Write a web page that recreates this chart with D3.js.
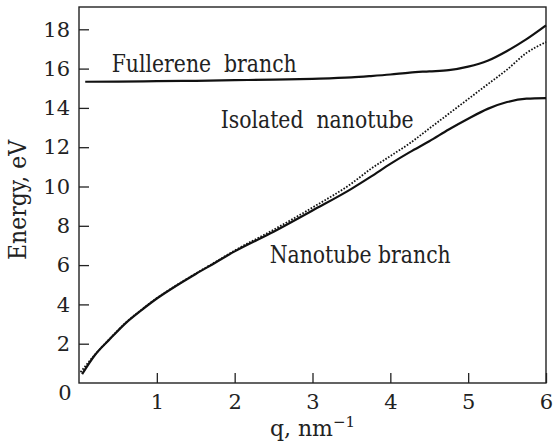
<!DOCTYPE html>
<html>
<head>
<meta charset="utf-8">
<script src="https://cdn.jsdelivr.net/npm/d3@7"></script>
<style>
  body { margin: 0; background: #fff; }
  svg, svg text { font-family: "DejaVu Serif", "Liberation Serif", "Noto Serif", serif !important; }
</style>
</head>
<body>
<div class="chart"></div>
<script>
// values
const nanotubeQ = [0.04, 0.2, 0.4, 0.6, 0.8, 1.0, 1.25, 1.5, 1.75, 2.0, 2.5, 3.0, 3.5, 3.75, 4.0, 4.25, 4.5, 4.75, 5.0, 5.25, 5.5, 5.75, 6.0]
const nanotubeE = [0.45, 1.4, 2.25, 3.05, 3.7, 4.3, 4.95, 5.55, 6.12, 6.7, 7.7, 8.78, 9.88, 10.5, 11.15, 11.75, 12.3, 12.9, 13.45, 13.95, 14.3, 14.47, 14.5]

const isolatedQ = [0.02, 0.2, 0.4, 0.6, 0.8, 1.0, 1.25, 1.5, 1.75, 2.0, 2.5, 3.0, 3.5, 3.75, 4.0, 4.25, 4.5, 4.75, 5.0, 5.25, 5.5, 5.75, 6.0]
const isolatedE = [0.55, 1.42, 2.27, 3.07, 3.72, 4.32, 4.97, 5.57, 6.15, 6.74, 7.8, 8.93, 10.15, 10.9, 11.55, 12.2, 12.95, 13.7, 14.45, 15.2, 15.95, 16.8, 17.35]

const fullereneQ = [0.08, 0.5, 1.0, 1.5, 2.0, 2.5, 3.0, 3.5, 3.75, 4.0, 4.25, 4.5, 4.75, 5.0, 5.25, 5.5, 5.75, 6.0]
const fullereneE = [15.33, 15.34, 15.36, 15.38, 15.41, 15.44, 15.48, 15.55, 15.62, 15.7, 15.8, 15.86, 15.92, 16.1, 16.4, 16.9, 17.5, 18.2]

const xTicks = [1, 2, 3, 4, 5, 6]
const yTicks = [2, 4, 6, 8, 10, 12, 14, 16, 18]

const labels = [
  { text: 'Fullerene  branch', q: 0.42, e: 15.85, len: 185 },
  { text: 'Isolated  nanotube', q: 1.82, e: 12.99, len: 193 },
  { text: 'Nanotube branch', q: 2.45, e: 6.13, len: 181 }
]

const margin = {top: 7, right: 8, bottom: 58, left: 79}
const width = 554 - margin.left - margin.right
const height = 441 - margin.top - margin.bottom

const x = d3.scaleLinear().domain([0, 6]).range([0, width])
const y = d3.scaleLinear().domain([0, 376 / 19.65]).range([height, 0])

const svg = d3.select('.chart').append('svg')
    .attr('width', 554)
    .attr('height', 441)
  .append('g')
    .attr('transform', 'translate(' + margin.left + ',' + margin.top + ')')

// x axis, ticks pointing in
svg.append('g')
    .attr('transform', 'translate(0,' + height + ')')
    .call(d3.axisBottom(x).tickValues(xTicks).tickSizeInner(-10).tickSizeOuter(0).tickPadding(11).tickFormat(d3.format('d')))
    .attr('font-size', 21)
    .call(g => g.select('.domain').remove())
    .call(g => g.selectAll('line').attr('stroke', '#222').attr('stroke-width', 1.3))
    .call(g => g.selectAll('text').attr('fill', '#222'))

// y axis
svg.append('g')
    .call(d3.axisLeft(y).tickValues(yTicks).tickSizeInner(-10).tickSizeOuter(0).tickPadding(9))
    .attr('font-size', 21)
    .call(g => g.select('.domain').remove())
    .call(g => g.selectAll('line').attr('stroke', '#222').attr('stroke-width', 1.3))
    .call(g => g.selectAll('text').attr('fill', '#222'))

// shared zero at the corner
svg.append('text')
    .attr('x', x(0) - 14)
    .attr('y', y(0) + 17)
    .attr('text-anchor', 'middle')
    .attr('font-size', 21)
    .attr('fill', '#222')
    .text('0')

// frame
svg.append('rect')
    .attr('width', width)
    .attr('height', height)
    .attr('fill', 'none')
    .attr('stroke', '#222')
    .attr('stroke-width', 1.4)

const line = d3.line()
  .x(d => x(d[0]))
  .y(d => y(d[1]))
  .curve(d3.curveMonotoneX)

svg.append('path')
    .datum(d3.zip(fullereneQ, fullereneE))
    .attr('fill', 'none').attr('stroke', '#111').attr('stroke-width', 2.2)
    .attr('d', line)

svg.append('path')
    .datum(d3.zip(isolatedQ, isolatedE))
    .attr('fill', 'none').attr('stroke', '#111').attr('stroke-width', 1.8)
    .attr('stroke-dasharray', '1.6,1.6')
    .attr('d', line)

svg.append('path')
    .datum(d3.zip(nanotubeQ, nanotubeE))
    .attr('fill', 'none').attr('stroke', '#111').attr('stroke-width', 2.2)
    .attr('d', line)

svg.selectAll('.note')
  .data(labels)
  .enter().append('text')
    .attr('class', 'note')
    .attr('x', d => x(d.q))
    .attr('y', d => y(d.e))
    .attr('font-size', 24)
    .attr('fill', '#222')
    .attr('textLength', d => d.len)
    .attr('lengthAdjust', 'spacingAndGlyphs')
    .style('white-space', 'pre')
    .text(d => d.text)

// axis titles
svg.append('text')
    .attr('transform', 'translate(' + (-53) + ',' + (height / 2 + 5) + ') rotate(-90)')
    .attr('text-anchor', 'middle')
    .attr('font-size', 24)
    .attr('textLength', 120)
    .attr('lengthAdjust', 'spacingAndGlyphs')
    .attr('fill', '#222')
    .text('Energy, eV')

const xt = svg.append('text')
    .attr('x', width / 2)
    .attr('y', height + 53)
    .attr('text-anchor', 'middle')
    .attr('font-size', 22)
    .attr('fill', '#222')
xt.append('tspan').text('q, nm')
xt.append('tspan').attr('dy', -9).attr('font-size', 15).text('\u22121')
</script>
</body>
</html>
